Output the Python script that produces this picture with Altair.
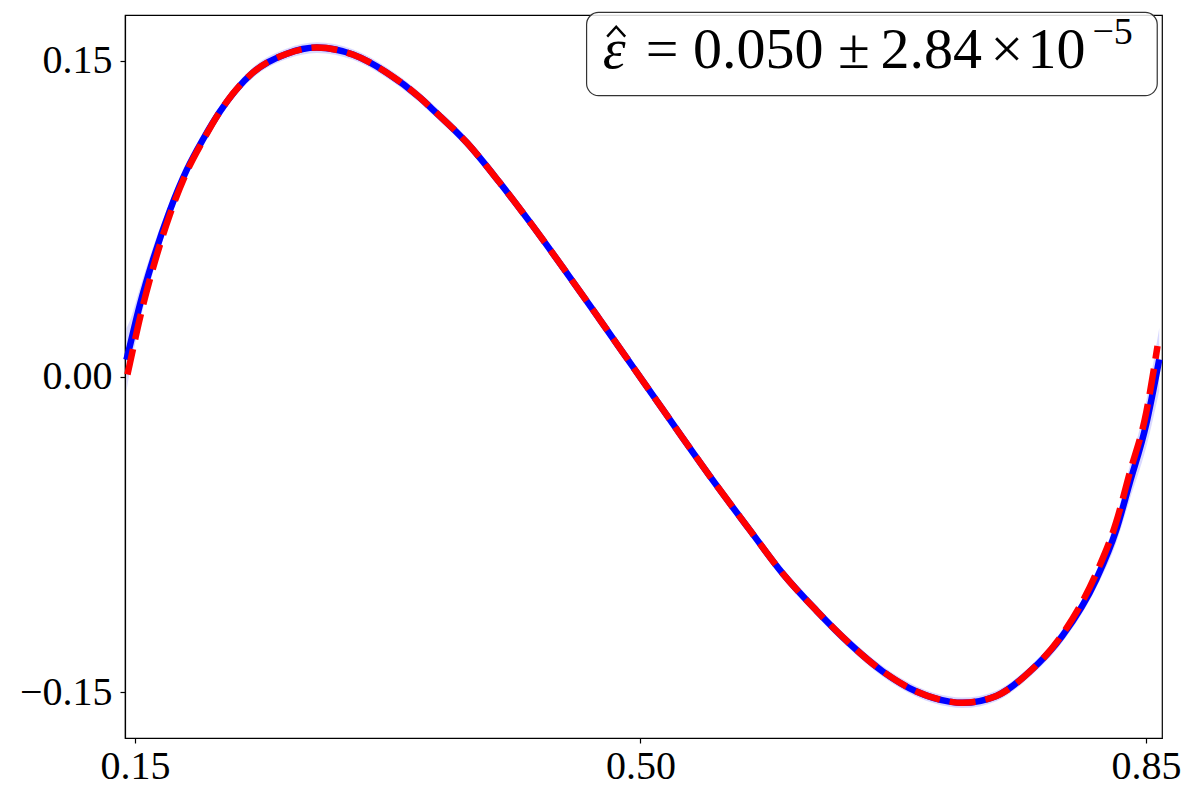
import altair as alt
import pandas as pd

# ---- data ----
x_blue = [0.1441, 0.1465, 0.1535, 0.1625, 0.1742, 0.1860, 0.1970, 0.2088, 0.2316, 0.2552,
          0.2759, 0.3008, 0.3244, 0.3472, 0.3562, 0.3797, 0.4025, 0.4254, 0.4489, 0.4717,
          0.4946, 0.5181, 0.5292, 0.5527, 0.5755, 0.5984, 0.6219, 0.6447, 0.6676, 0.6911,
          0.7139, 0.7229, 0.7464, 0.7693, 0.7921, 0.8156, 0.8294, 0.8385, 0.8502, 0.8592]
y_blue = [0.0080, 0.0147, 0.0343, 0.0555, 0.0790, 0.0984, 0.1126, 0.1259, 0.1444, 0.1534,
          0.1563, 0.1530, 0.1444, 0.1326, 0.1269, 0.1112, 0.0922, 0.0716, 0.0493, 0.0272,
          0.0048, -0.0182, -0.0291, -0.0517, -0.0727, -0.0935, -0.1112, -0.1268, -0.1400, -0.1496,
          -0.1544, -0.1550, -0.1517, -0.1403, -0.1232, -0.0963, -0.0729, -0.0511, -0.0225, 0.0082]
band_half = [0.0150, 0.0120, 0.0080, 0.0060, 0.0040, 0.0030, 0.0025, 0.0025, 0.0025, 0.0025,
             0.0025, 0.0025, 0.0025, 0.0025, 0.0025, 0.0025, 0.0025, 0.0025, 0.0025, 0.0025,
             0.0025, 0.0025, 0.0025, 0.0025, 0.0025, 0.0025, 0.0025, 0.0025, 0.0025, 0.0025,
             0.0025, 0.0025, 0.0025, 0.0025, 0.0030, 0.0040, 0.0060, 0.0080, 0.0110, 0.0150]

x_red = [0.1448, 0.1465, 0.1535, 0.1625, 0.1742, 0.1860, 0.1970, 0.2088, 0.2316, 0.2552,
         0.2759, 0.3008, 0.3244, 0.3472, 0.3562, 0.3797, 0.4025, 0.4254, 0.4489, 0.4717,
         0.4946, 0.5181, 0.5292, 0.5527, 0.5755, 0.5984, 0.6219, 0.6447, 0.6676, 0.6911,
         0.7139, 0.7229, 0.7464, 0.7693, 0.7921, 0.8156, 0.8294, 0.8385, 0.8502, 0.8580]
y_red = [0.0010, 0.0063, 0.0280, 0.0515, 0.0770, 0.0975, 0.1120, 0.1259, 0.1444, 0.1534,
         0.1563, 0.1530, 0.1444, 0.1326, 0.1269, 0.1112, 0.0922, 0.0716, 0.0493, 0.0272,
         0.0048, -0.0182, -0.0291, -0.0517, -0.0727, -0.0935, -0.1112, -0.1268, -0.1400, -0.1496,
         -0.1544, -0.1550, -0.1517, -0.1403, -0.1225, -0.0934, -0.0691, -0.0463, -0.0170, 0.0145]

x_ticks = [0.15, 0.50, 0.85]
y_ticks = [-0.15, 0.00, 0.15]
x_domain = [0.1431, 0.8611]
y_domain = [-0.1717, 0.1718]

# annotation text pieces
sym_text = "ε"
main_text = "= 0.050 ±"
value_text = "2.84"
times_text = "×"
base_text = "10"
exp_text = "−5"
# annotation placement (data units)
box_pos = {"bx": 0.4627, "bx2": 0.8578, "by": 0.1335, "by2": 0.1730}
text_pos = {"sym_x": 0.4738, "hat_x": 0.4832, "main_x": 0.5036, "val_x": 0.6662,
            "times_x": 0.7424, "base_x": 0.7679, "exp_x": 0.8129,
            "ty": 0.1467, "hat_y": 0.1639, "exp_y": 0.1582}

FONT = "Liberation Serif"

blue_df = pd.DataFrame({
    "x": x_blue,
    "y": y_blue,
    "lo": [a - b for a, b in zip(y_blue, band_half)],
    "hi": [a + b for a, b in zip(y_blue, band_half)],
})
red_df = pd.DataFrame({"x": x_red, "y": y_red})

xs = alt.Scale(domain=x_domain, nice=False, zero=False)
ys = alt.Scale(domain=y_domain, nice=False, zero=False)
xax = alt.Axis(values=x_ticks, format=".2f", title=None, grid=False)
yax = alt.Axis(values=y_ticks, format=".2f", title=None, grid=False)

band = alt.Chart(blue_df).mark_area(color="#0000ff", opacity=0.15, interpolate="monotone").encode(
    x=alt.X("x:Q", scale=xs, axis=xax),
    y=alt.Y("lo:Q", scale=ys, axis=yax),
    y2="hi:Q",
)
blue = alt.Chart(blue_df).mark_line(color="#0000ff", strokeWidth=6.5, interpolate="monotone").encode(
    x=alt.X("x:Q", scale=xs), y=alt.Y("y:Q", scale=ys)
)
red = alt.Chart(red_df).mark_line(color="#ff0000", strokeWidth=6.5, strokeDash=[26, 10],
                                  interpolate="monotone").encode(
    x=alt.X("x:Q", scale=xs), y=alt.Y("y:Q", scale=ys)
)

ann_df = pd.DataFrame([{**box_pos, **text_pos, "sym": sym_text, "main": main_text,
                        "val": value_text, "times": times_text, "base": base_text,
                        "exp": exp_text}])
rect = alt.Chart(ann_df).mark_rect(fill="white", fillOpacity=0.85, stroke="#333333",
                                   strokeWidth=1.2, cornerRadius=12).encode(
    x=alt.X("bx:Q", scale=xs), x2="bx2:Q", y=alt.Y("by:Q", scale=ys), y2="by2:Q"
)
# circumflex accent over the epsilon, drawn as an open chevron symbol
hat = alt.Chart(ann_df).mark_point(shape="M -1 0.55 L 0 -0.55 L 1 0.55", size=324, filled=False,
                                   color="black", strokeWidth=2.4, opacity=1).encode(
    x=alt.X("hat_x:Q", scale=xs), y=alt.Y("hat_y:Q", scale=ys)
)


def label(col, xcol, ycol, size, align="left", style="normal"):
    return alt.Chart(ann_df).mark_text(font=FONT, fontSize=size, fontStyle=style, align=align,
                                       baseline="alphabetic", color="black").encode(
        x=alt.X(f"{xcol}:Q", scale=xs), y=alt.Y(f"{ycol}:Q", scale=ys), text=f"{col}:N"
    )


t_sym = label("sym", "sym_x", "ty", 58, style="italic")
t_main = label("main", "main_x", "ty", 58)
t_val = label("val", "val_x", "ty", 58)
t_times = label("times", "times_x", "ty", 58)
t_base = label("base", "base_x", "ty", 58)
t_exp = label("exp", "exp_x", "exp_y", 38)

chart = alt.layer(band, blue, red, rect, hat, t_sym, t_main, t_val, t_times, t_base,
                  t_exp).properties(
    width=1037, height=723,
    autosize=alt.AutoSizeParams(type="none"),
    padding={"left": 117, "top": 7, "right": 30, "bottom": 50},
).configure_view(stroke="black", strokeWidth=1.2).configure_axis(
    labelFont=FONT, labelFontSize=40, labelColor="black", tickColor="black",
    domainColor="black", domainWidth=1.2, tickSize=5, tickWidth=1.2, labelPadding=8,
).configure_axisX(labelPadding=3)

chart.save("out.html", embed_options={"renderer": "svg", "actions": False})
